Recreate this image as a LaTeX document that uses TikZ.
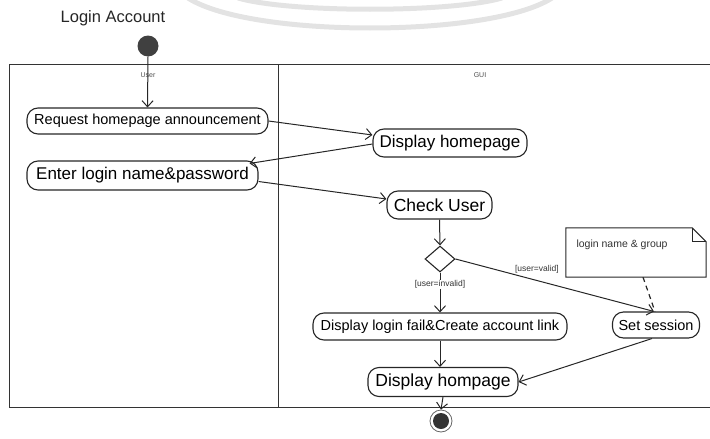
\documentclass[tikz,border=0pt]{standalone}
\usepackage{fontspec}
\setmainfont{Liberation Sans}
\usetikzlibrary{arrows.meta,shapes.geometric}
\begin{document}
\begin{tikzpicture}[x=1pt,y=-1pt,
  act/.style={draw=black!85, line width=1.1pt, rounded corners=11pt, inner sep=0pt, align=center, text=black},
  flow/.style={draw=black!85, line width=1pt, -{Straight Barb[length=6pt,width=11pt]}},
  lbl/.style={font=\fontsize{8.5}{9}\selectfont, text=black!80, inner sep=1pt},
  big/.style={font=\fontsize{17}{19}\selectfont},
  small/.style={font=\fontsize{14.5}{16}\selectfont}]
\useasboundingbox (0,0) rectangle (710,439);
% watermark arcs
\draw[gray!22, line width=5pt] (188,-2) .. controls (250,38) and (490,38) .. (552,-2);
\draw[gray!22, line width=5pt] (238,-2) .. controls (290,13) and (450,13) .. (502,-2);
% title
\node[font=\fontsize{16.5}{18}\selectfont, text=black!85] (title) at (113,18) {Login Account};
% swimlane frame
\draw[black!80, line width=1pt] (710,64) -- (9,64) -- (9,407) -- (710,407);
\draw[black!80, line width=1pt] (278,64) -- (278,407);
\node[font=\fontsize{7}{8}\selectfont, text=black!70] (userlbl) at (148,75) {User};
\node[font=\fontsize{7}{8}\selectfont, text=black!70] (guilbl) at (480,75) {GUI};
% start / end
\node[circle, fill=black!75, minimum size=21pt, inner sep=0pt] (start) at (148,46) {};
\node[circle, draw=black!60, line width=0.8pt, minimum size=22pt, inner sep=0pt,
  path picture={\fill[black!80] (path picture bounding box.center) circle (8pt);}] (end) at (441,421) {};
% activities
\node[act, small, minimum width=241pt, minimum height=26pt] (req) at (147.5,121) {Request homepage announcement};
\node[act, big, minimum width=154pt, minimum height=28pt] (dh) at (450,143) {Display homepage};
\node[act, big, minimum width=231pt, minimum height=29pt] (enter) at (142.5,175.5) {Enter login name\&password};
\node[act, font=\fontsize{17.5}{19}\selectfont, minimum width=105pt, minimum height=28pt] (check) at (439.5,205) {Check User};
\node[diamond, draw=black!85, line width=1.1pt, minimum width=30pt, minimum height=26pt, inner sep=0pt] (dec) at (440,259) {};
\node[act, small, minimum width=254pt, minimum height=27pt] (fail) at (440,326.5) {Display login fail\&Create account link};
\node[act, small, minimum width=87pt, minimum height=26pt] (sess) at (656,325) {Set session};
\node[act, font=\fontsize{17.5}{19}\selectfont, minimum width=150pt, minimum height=29pt] (dhp) at (443,382) {Display hompage};
% note
\node[minimum width=140pt, minimum height=49pt, inner sep=0pt] (note) at (636,252.5) {};
\node[font=\fontsize{10.5}{12}\selectfont, text=black!80, anchor=west] (notetxt) at (573,245) {login name \& group};
\draw[black!85, line width=1pt] (note.north west) -- ([xshift=-14pt]note.north east) -- ([yshift=-14pt]note.north east) -- (note.south east) -- (note.south west) -- cycle;
\draw[black!85, line width=0.8pt] ([xshift=-14pt]note.north east) |- ([yshift=-14pt]note.north east);
\draw[black!85, line width=1.2pt, dash pattern=on 5pt off 4pt] ([xshift=7pt]note.south) -- ([xshift=-1pt]sess.north);
% flows
\draw[flow] (start.south) -- (req.north);
\draw[flow] (req.east) -- ([yshift=8pt]dh.west);
\draw[flow] ([yshift=-1pt]dh.west) -- ([xshift=-9pt,yshift=-3pt]enter.north east);
\draw[flow] ([yshift=-6pt]enter.east) -- ([yshift=6pt]check.west);
\draw[flow] (check.south) -- (dec.north);
\draw[flow] (dec.south) -- node[lbl, fill=white, pos=0.3] (inv) {[user=invalid]} (fail.north);
\draw[flow] (dec.east) -- node[lbl, pos=0.41, yshift=11pt] (val) {[user=valid]} ([xshift=-2pt]sess.north);
\draw[flow] (fail.south) -- (fail.south |- dhp.north);
\draw[flow] ([xshift=-4pt]sess.south) -- (dhp.east);
\draw[flow] (dhp.south) -- (end.north);
\end{tikzpicture}
\end{document}
